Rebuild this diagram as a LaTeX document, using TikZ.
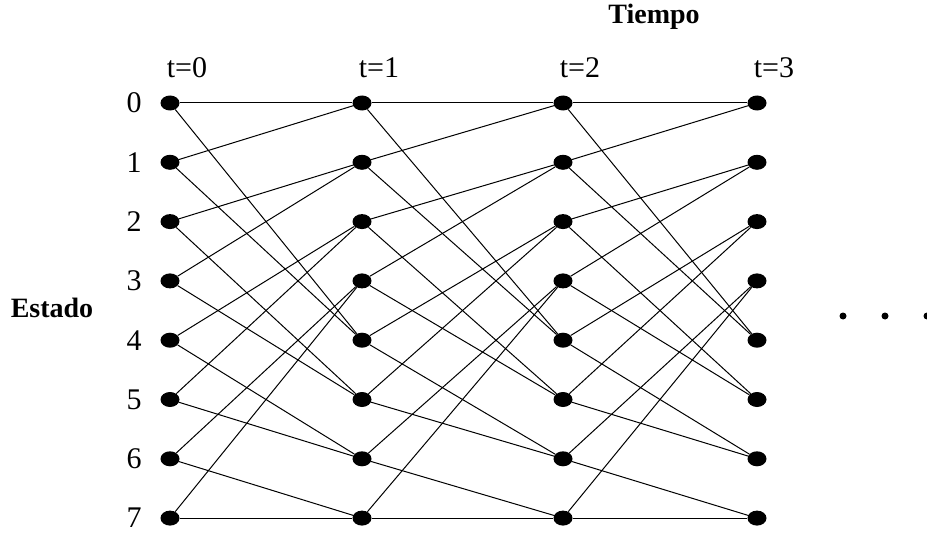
\documentclass[tikz,border=0pt]{standalone}
\usepackage{fontspec}
\setmainfont{Liberation Serif}
\usetikzlibrary{shapes.geometric,positioning}

\begin{document}
\begin{tikzpicture}[
    x=1pt, y=-1pt,
    state/.style={ellipse, fill=black, inner sep=0pt,
                  minimum width=19pt, minimum height=15pt},
    dot/.style={circle, fill=black, inner sep=0pt, minimum size=7pt},
    lbl/.style={font=\fontsize{30}{34}\selectfont},
    title/.style={font=\fontsize{28}{32}\selectfont\bfseries},
    branch/.style={line width=1pt}
]
    \useasboundingbox (0,0) rectangle (927,535);

    \node[title] (tiempo) at (654,17) {Tiempo};
    \node[title] (estado) at (52,308) {Estado};

    % trellis states
    \foreach \t/\x in {0/170, 1/362, 2/563, 3/757} {
        \node[lbl] (time\t) at (\x+17,68) {t=\t};
        \foreach \s in {0,...,7}
            \node[state] (n\t\s) at (\x,103+59.3*\s) {};
    }
    \foreach \s in {0,...,7}
        \node[lbl] (lab\s) at (134,103+59.3*\s) {\s};

    % branches: s -> s/2 and s/2+4
    \foreach \t/\u in {0/1, 1/2, 2/3}
        \foreach \s in {0,...,7} {
            \pgfmathtruncatemacro\lo{\s/2}
            \pgfmathtruncatemacro\hi{\s/2+4}
            \draw[branch] (n\t\s) -- (n\u\lo);
            \draw[branch] (n\t\s) -- (n\u\hi);
        }

    \node[dot] (more1) at (843,316) {};
    \node[dot] (more2) at (885,316) {};
    \node[dot] (more3) at (927,316) {};
\end{tikzpicture}
\end{document}
